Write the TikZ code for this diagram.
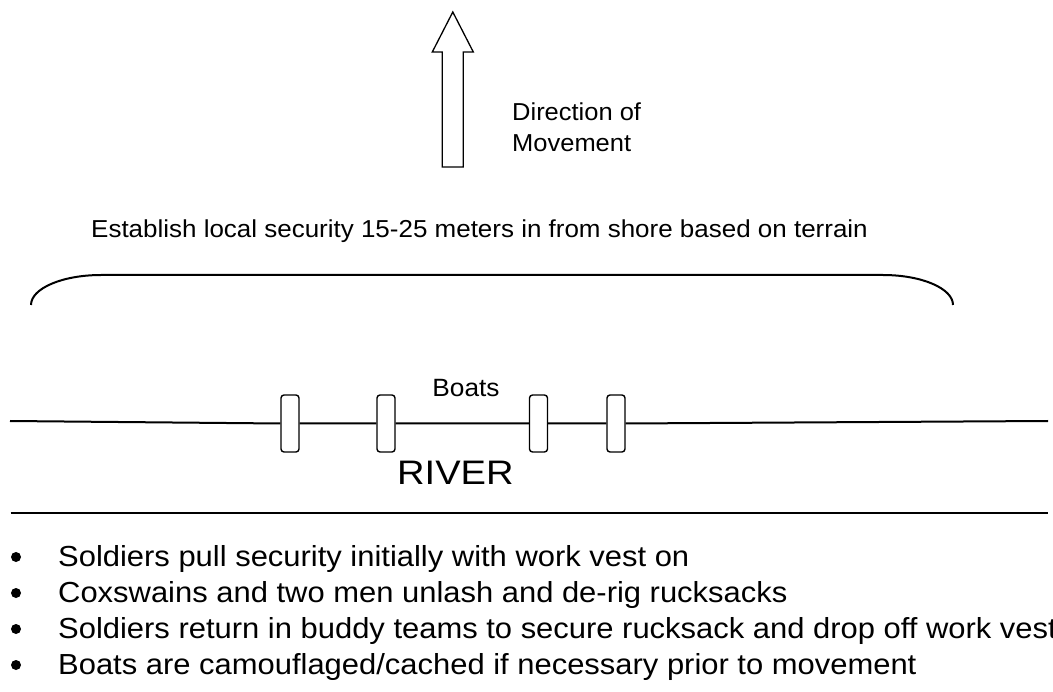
\documentclass[tikz,border=0pt]{standalone}
\usepackage{fontspec}
\setmainfont{Liberation Sans}
\newcommand{\hstr}[2]{\scalebox{#1}[1]{#2}}
\begin{document}
\begin{tikzpicture}[x=1pt,y=-1pt,
  thickline/.style={line width=2pt},
  boat/.style={draw,line width=1.4pt,rounded corners=3pt,minimum width=18pt,minimum height=57pt,inner sep=0pt,fill=white},
  bdot/.style={circle,fill=black,inner sep=0pt,minimum size=10pt},
  btext/.style={anchor=base west,inner sep=0pt,font=\fontsize{29}{34}\selectfont},
  lbl/.style={inner sep=0pt}]
\useasboundingbox (0,0) rectangle (1053,692);
% direction arrow
\draw[line width=1.3pt,line join=miter] (442.3,167) -- (442.3,52) -- (432.3,52) -- (452.8,12) -- (473.3,52) -- (463.3,52) -- (463.3,167) -- cycle;
\node[lbl,anchor=base west,font=\fontsize{24.5}{30}\selectfont] (dir1) at (512,121) {\hstr{1.04}{Direction of}};
\node[lbl,anchor=base west,font=\fontsize{24.5}{30}\selectfont] (dir2) at (512,152) {\hstr{1.04}{Movement}};
% security label and arc
\node[lbl,anchor=base west,font=\fontsize{24.5}{30}\selectfont] (sec) at (91,238) {\hstr{1.06}{Establish local security 15-25 meters in from shore based on terrain}};
\draw[thickline] (31,305) .. controls (31,288.4) and (62.4,275) .. (101,275) -- (883,275) .. controls (921.6,275) and (953,288.4) .. (953,305);
% river and boats
\coordinate (rl) at (10,421);
\coordinate (rr) at (1048,421);
\node[boat] (b1) at (290,423.5) {};
\node[boat] (b2) at (386,423.5) {};
\node[boat] (b3) at (538.5,423.5) {};
\node[boat] (b4) at (616,423.5) {};
\draw[thickline] (rl) -- (b1.west) (b1.east) -- (b2.west) (b2.east) -- (b3.west) (b3.east) -- (b4.west) (b4.east) -- (rr);
\node[lbl,anchor=base,font=\fontsize{25}{30}\selectfont] (boats) at (466,396.5) {\hstr{1.05}{Boats}};
\node[lbl,anchor=base west,font=\fontsize{34}{40}\selectfont] (river) at (397,485) {\hstr{1.12}{RIVER}};
\coordinate (ll) at (10.5,513);
\coordinate (lr) at (1048,513);
\draw[thickline] (ll) -- (lr);
% bullets
\node[bdot] (d1) at (16,557) {};
\node[bdot] (d2) at (16,593) {};
\node[bdot] (d3) at (16,629) {};
\node[bdot] (d4) at (16,665) {};
\node[btext] (t1) at (58,566.5) {\hstr{1.067}{Soldiers pull security initially with work vest on}};
\node[btext] (t2) at (58,602.5) {\hstr{1.067}{Coxswains and two men unlash and de-rig rucksacks}};
\node[btext] (t3) at (58,638.5) {\hstr{1.067}{Soldiers return in buddy teams to secure rucksack and drop off work vest}};
\node[btext] (t4) at (58,674.5) {\hstr{1.067}{Boats are camouflaged/cached if necessary prior to movement}};
\end{tikzpicture}
\end{document}
